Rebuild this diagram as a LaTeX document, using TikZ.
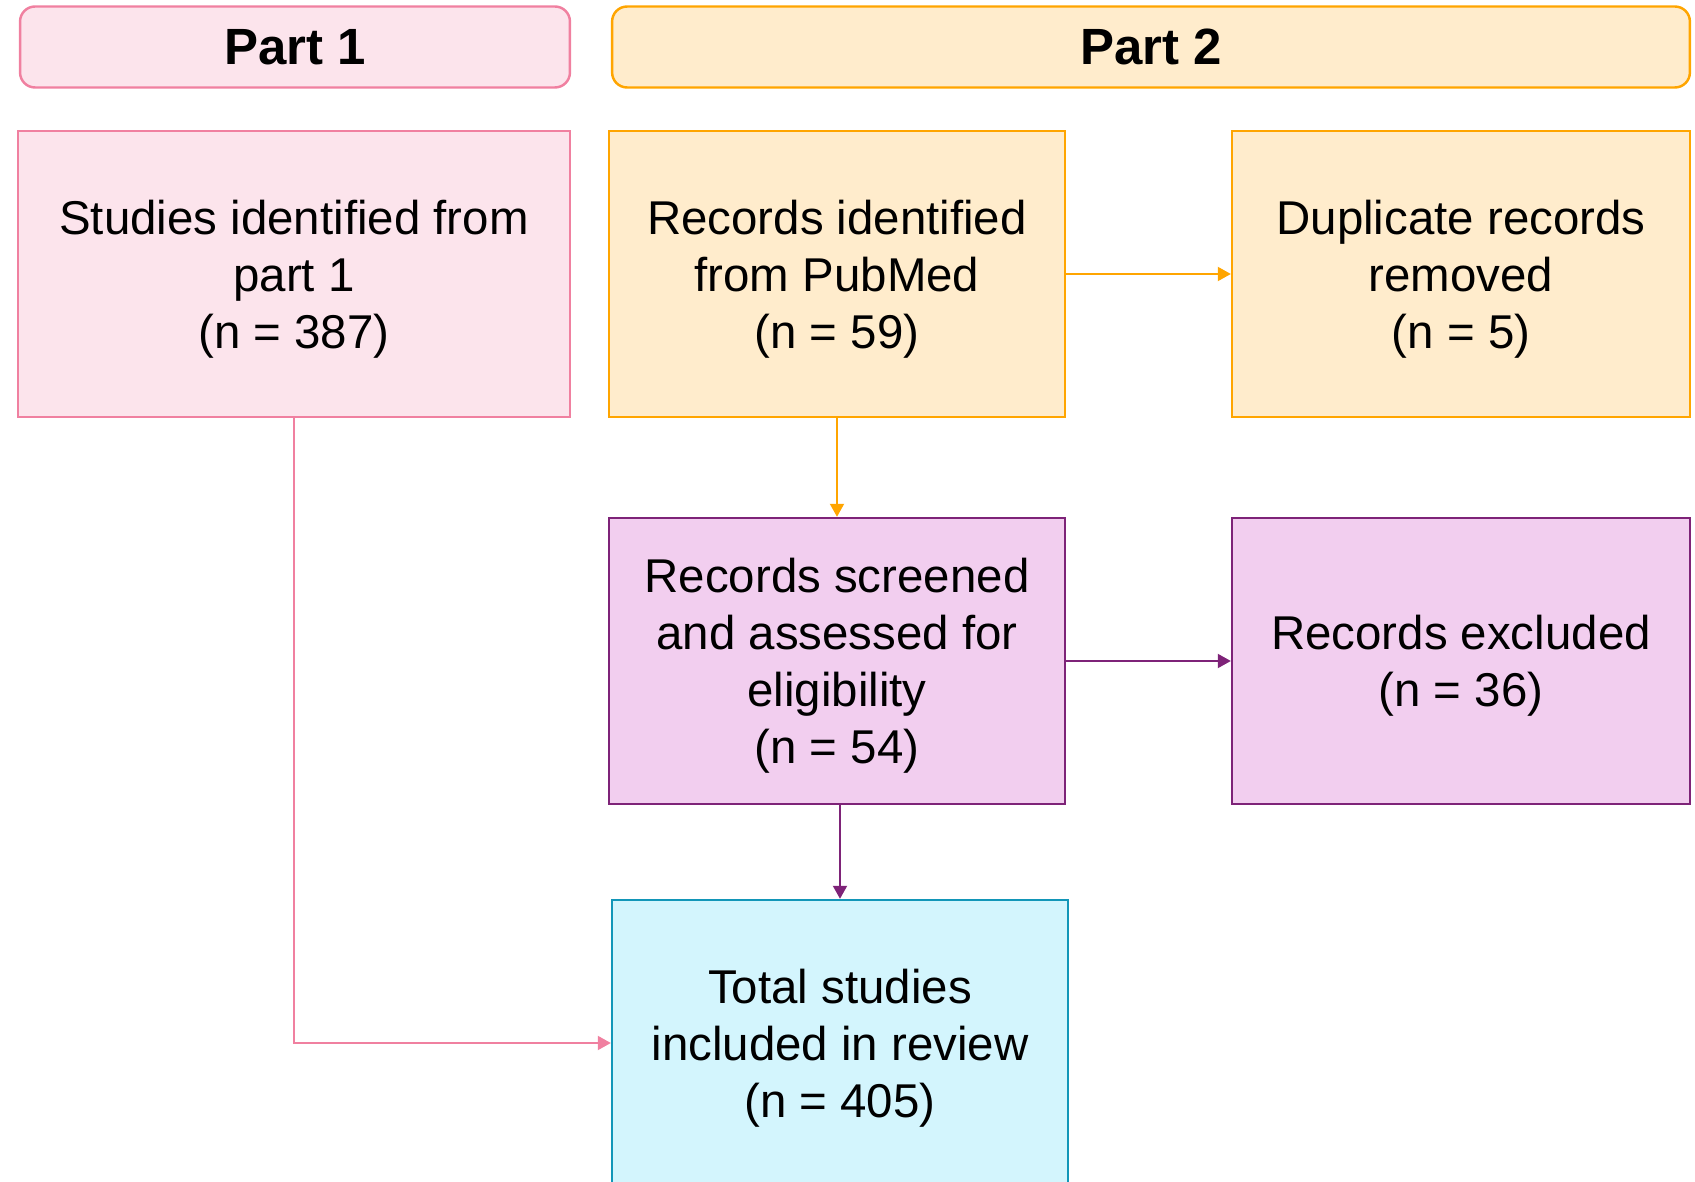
\documentclass[tikz,border=0pt]{standalone}
\usepackage{fontspec}
\setmainfont{Liberation Sans}
\usetikzlibrary{arrows.meta}
\usetikzlibrary{positioning}
\definecolor{pinkfill}{HTML}{FCE4EC}
\definecolor{pinkline}{HTML}{F080A0}
\definecolor{orangefill}{HTML}{FFECCC}
\definecolor{orangeline}{HTML}{FFA500}
\definecolor{purplefill}{HTML}{F2CEEF}
\definecolor{purpleline}{HTML}{7E2378}
\definecolor{cyanfill}{HTML}{D3F5FD}
\definecolor{cyanline}{HTML}{1296B8}
\tikzset{
    partbox/.style={draw, line width=1.4pt, rounded corners=0.3cm, minimum height=1.62cm,
        font=\fontsize{29}{33}\selectfont\bfseries},
    flowbox/.style={draw, line width=1.4pt, minimum height=5.72cm, align=center, text depth=0pt,
        font=\fontsize{27}{32.5}\selectfont},
    flowarrow/.style={line width=1.1pt, -{Triangle[width=0.28cm, length=0.26cm]}}
}
\begin{document}
\begin{tikzpicture}[x=0.02cm, y=-0.02cm]
                    \useasboundingbox (0, 0) rectangle (1695, 1182);
                    \clip (0, 0) rectangle (1695, 1182);
                    \node[partbox, fill=pinkfill, draw=pinkline, minimum width=11cm](partA) at (295, 47){Part 1};
                    \node[partbox, fill=orangefill, draw=orangeline, minimum width=21.56cm](partB) at (1151, 47){Part 2};
                    \node[flowbox, fill=pinkfill, draw=pinkline, minimum width=11.04cm](studies) at (294, 274){Studies identified from\\part 1\\(n = 387)};
                    \node[flowbox, fill=orangefill, draw=orangeline, minimum width=9.12cm](pubmed) at (837, 274){Records identified\\from PubMed\\(n = 59)};
                    \node[flowbox, fill=orangefill, draw=orangeline, minimum width=9.16cm](dup) at (1461, 274){Duplicate records\\removed\\(n = 5)};
                    \node[flowbox, fill=purplefill, draw=purpleline, minimum width=9.12cm](screen) at (837, 661){Records screened\\and assessed for\\eligibility\\(n = 54)};
                    \node[flowbox, fill=purplefill, draw=purpleline, minimum width=9.16cm](excl) at (1461, 661){Records excluded\\(n = 36)};
                    \node[flowbox, fill=cyanfill, draw=cyanline, minimum width=9.12cm](total) at (840, 1043){Total studies\\included in review\\(n = 405)};
                    \draw[flowarrow, draw=orangeline](pubmed) -- (dup);
                    \draw[flowarrow, draw=orangeline](pubmed) -- (screen);
                    \draw[flowarrow, draw=purpleline](screen) -- (excl);
                    \draw[flowarrow, draw=purpleline](total.north |- screen.south) -- (total.north);
                    \draw[flowarrow, draw=pinkline](studies.south) |- (total.west);
                \end{tikzpicture}
\end{document}
